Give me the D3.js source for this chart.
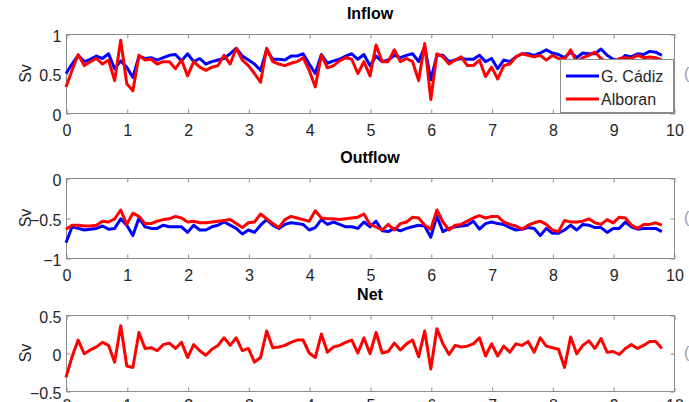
<!DOCTYPE html>
<html>
<head>
<meta charset="utf-8">
<script src="https://cdn.jsdelivr.net/npm/d3@7"></script>
<style>
    body { margin: 0; background: #fff; }
    svg { display: block; font-family: "Liberation Sans", Arial, sans-serif; }
    .tick text { fill: #262626; font-size: 16px; }
    .domain, .tick line { stroke: #8c8c8c; }
    .panelTitle { font-size: 16px; font-weight: bold; fill: #000; text-anchor: middle; }
    .axisLabel { font-size: 16px; fill: #262626; text-anchor: middle; }
</style>
</head>
<body>
<div id="chart"></div>
<script>

// time axis (years), one value every 0.1
const years = d3.range(0, 99).map(i => i / 10);

const xTicks = [0, 1, 2, 3, 4, 5, 6, 7, 8, 9, 10];
const seriesNames = ["G. Cádiz", "Alboran"];
const seriesColors = ["#0000ff", "#ff0000"];
const panelTitles = ["Inflow", "Outflow", "Net"];
const panelTags = ["(a)", "(b)", "(c)"];

const inflowCadiz = [
    0.50, 0.62, 0.73, 0.65, 0.68, 0.72, 0.69, 0.75, 0.56, 0.66,
    0.58, 0.45, 0.72, 0.69, 0.70, 0.67, 0.70, 0.73, 0.74, 0.66,
    0.75, 0.65, 0.69, 0.62, 0.65, 0.67, 0.69, 0.75, 0.82, 0.72,
    0.67, 0.62, 0.54, 0.80, 0.68, 0.68, 0.67, 0.72, 0.72, 0.75,
    0.62, 0.50, 0.74, 0.63, 0.66, 0.68, 0.72, 0.75, 0.68, 0.74,
    0.60, 0.72, 0.65, 0.67, 0.73, 0.70, 0.73, 0.75, 0.65, 0.84,
    0.42, 0.73, 0.73, 0.65, 0.67, 0.69, 0.68, 0.68, 0.73, 0.65,
    0.69, 0.56, 0.67, 0.65, 0.71, 0.75, 0.75, 0.73, 0.76, 0.80,
    0.76, 0.74, 0.70, 0.77, 0.70, 0.76, 0.75, 0.75, 0.81, 0.73,
    0.68, 0.66, 0.73, 0.71, 0.75, 0.74, 0.78, 0.77, 0.73
];
const inflowAlboran = [
    0.33, 0.54, 0.74, 0.60, 0.65, 0.69, 0.62, 0.67, 0.41, 0.92,
    0.37, 0.28, 0.73, 0.67, 0.68, 0.62, 0.65, 0.65, 0.56, 0.67,
    0.47, 0.65, 0.58, 0.54, 0.58, 0.60, 0.73, 0.62, 0.82, 0.67,
    0.60, 0.50, 0.39, 0.82, 0.65, 0.62, 0.60, 0.63, 0.65, 0.70,
    0.54, 0.33, 0.73, 0.57, 0.60, 0.66, 0.70, 0.68, 0.50, 0.65,
    0.47, 0.86, 0.65, 0.65, 0.80, 0.65, 0.69, 0.65, 0.41, 0.88,
    0.17, 0.75, 0.71, 0.62, 0.67, 0.71, 0.60, 0.60, 0.67, 0.46,
    0.58, 0.43, 0.60, 0.62, 0.71, 0.75, 0.73, 0.71, 0.73, 0.67,
    0.73, 0.69, 0.68, 0.80, 0.64, 0.70, 0.73, 0.77, 0.69, 0.64,
    0.64, 0.69, 0.70, 0.69, 0.73, 0.70, 0.71, 0.70, 0.67
];
const outflowCadiz = [
    -0.81, -0.61, -0.63, -0.65, -0.64, -0.63, -0.60, -0.64, -0.63, -0.51,
    -0.59, -0.72, -0.50, -0.61, -0.63, -0.63, -0.59, -0.61, -0.61, -0.61,
    -0.68, -0.59, -0.65, -0.65, -0.61, -0.59, -0.55, -0.59, -0.63, -0.70,
    -0.65, -0.68, -0.59, -0.52, -0.59, -0.63, -0.58, -0.56, -0.57, -0.58,
    -0.65, -0.62, -0.52, -0.58, -0.55, -0.58, -0.61, -0.61, -0.63, -0.55,
    -0.61, -0.54, -0.66, -0.67, -0.63, -0.66, -0.63, -0.61, -0.59, -0.60,
    -0.74, -0.48, -0.67, -0.63, -0.61, -0.60, -0.59, -0.54, -0.64, -0.57,
    -0.55, -0.57, -0.58, -0.62, -0.65, -0.64, -0.62, -0.63, -0.72, -0.63,
    -0.69, -0.69, -0.65, -0.59, -0.65, -0.58, -0.59, -0.62, -0.62, -0.68,
    -0.63, -0.63, -0.55, -0.61, -0.64, -0.63, -0.63, -0.63, -0.67
];
const outflowAlboran = [
    -0.64, -0.59, -0.59, -0.60, -0.60, -0.59, -0.54, -0.55, -0.51, -0.40,
    -0.58, -0.44, -0.48, -0.57, -0.57, -0.54, -0.52, -0.51, -0.48, -0.50,
    -0.55, -0.54, -0.56, -0.56, -0.55, -0.54, -0.53, -0.52, -0.57, -0.62,
    -0.56, -0.55, -0.45, -0.51, -0.57, -0.62, -0.52, -0.48, -0.50, -0.52,
    -0.54, -0.41, -0.50, -0.51, -0.51, -0.52, -0.51, -0.50, -0.49, -0.45,
    -0.58, -0.61, -0.65, -0.58, -0.65, -0.57, -0.55, -0.49, -0.50, -0.59,
    -0.64, -0.40, -0.55, -0.65, -0.59, -0.58, -0.54, -0.50, -0.47, -0.50,
    -0.48, -0.48, -0.55, -0.58, -0.60, -0.64, -0.59, -0.56, -0.54, -0.58,
    -0.65, -0.67, -0.53, -0.55, -0.55, -0.54, -0.51, -0.56, -0.58, -0.52,
    -0.56, -0.49, -0.50, -0.59, -0.63, -0.58, -0.58, -0.56, -0.59
];
const netAlboran = [
    -0.32, -0.05, 0.17, -0.01, 0.04, 0.08, 0.14, 0.10, -0.12, 0.36,
    -0.17, -0.19, 0.27, 0.06, 0.07, 0.03, 0.11, 0.13, 0.06, 0.14,
    -0.06, 0.11, 0.03, -0.03, 0.05, 0.10, 0.20, 0.10, 0.20, 0.03,
    0.06, -0.12, -0.06, 0.29, 0.07, 0.08, 0.10, 0.14, 0.17, 0.17,
    0.00, -0.06, 0.25, 0.01, 0.08, 0.10, 0.14, 0.17, 0.00, 0.20,
    -0.01, 0.27, 0.00, 0.02, 0.13, 0.04, 0.12, 0.17, -0.05, 0.29,
    -0.21, 0.32, 0.12, -0.02, 0.10, 0.08, 0.09, 0.12, 0.20, -0.04,
    0.12, -0.04, 0.09, 0.01, 0.12, 0.10, 0.15, 0.01, 0.20, 0.09,
    0.07, 0.05, -0.19, 0.21, -0.01, 0.10, 0.16, 0.06, 0.19, 0.01,
    0.02, -0.02, 0.06, 0.11, 0.06, 0.10, 0.15, 0.15, 0.06
];

const yDomains = [[0, 1], [-1, 0], [-0.5, 0.5]];
const yTicks = [[0, 0.5, 1], [-1, -0.5, 0], [-0.5, 0, 0.5]];

const width = 689, height = 402;
const left = 66, right = 674;
// top / bottom pixel of each subplot, and gap to the x tick labels
const panelBox = [[34, 113], [178, 258], [315, 391]];
const xLabelPad = [11, 11, 8];

const svg = d3.select("#chart").append("svg")
    .attr("width", width)
    .attr("height", height);

const xScale = d3.scaleLinear().domain([0, 10]).range([left, right]);

// which series go in which panel
const panelSeries = [
    [inflowCadiz, inflowAlboran],
    [outflowCadiz, outflowAlboran],
    [null, netAlboran]
];

panelTitles.forEach(function (title, p) {
    let [top, bottom] = panelBox[p];
    let yScale = d3.scaleLinear().domain(yDomains[p]).range([bottom, top]);
    let g = svg.append("g");

    // box
    g.append("rect")
        .attr("x", left + 0.5).attr("y", top + 0.5)
        .attr("width", right - left).attr("height", bottom - top)
        .attr("fill", "#fff").attr("stroke", "#8c8c8c");

    let line = d3.line()
        .x((d, i) => xScale(years[i]))
        .y(d => yScale(d));
    panelSeries[p].forEach(function (values, s) {
        if (!values) return;
        g.append("path")
            .datum(values)
            .attr("d", line)
            .attr("fill", "none")
            .attr("stroke", seriesColors[s])
            .attr("stroke-width", 3)
            .attr("stroke-linejoin", "round");
    });

    // axes, ticks point inward like matlab
    let xAxis = g.append("g")
        .attr("transform", "translate(0.5," + (bottom + 0.5) + ")")
        .call(d3.axisBottom(xScale).tickValues(xTicks).tickSizeInner(-4).tickSizeOuter(0).tickPadding(xLabelPad[p]));
    xAxis.select(".domain").remove();

    g.append("g")
        .attr("transform", "translate(0.5," + (top + 0.5) + ")")
        .call(d3.axisTop(xScale).tickValues(xTicks).tickSizeInner(-4).tickSizeOuter(0).tickFormat(""))
        .select(".domain").remove();

    let yAxis = g.append("g")
        .attr("transform", "translate(" + (left + 0.5) + ",0.5)")
        .call(d3.axisLeft(yScale).tickValues(yTicks[p]).tickSizeInner(-4).tickSizeOuter(0).tickPadding(5).tickFormat(d3.format("")));
    yAxis.select(".domain").remove();
    yAxis.selectAll("text").attr("dy", "0.42em");

    g.append("g")
        .attr("transform", "translate(" + (right + 0.5) + ",0.5)")
        .call(d3.axisRight(yScale).tickValues(yTicks[p]).tickSizeInner(-4).tickSizeOuter(0).tickFormat(""))
        .select(".domain").remove();

    // title and y label
    g.append("text")
        .attr("class", "panelTitle")
        .attr("x", (left + right) / 2)
        .attr("y", top - 15)
        .text(title);

    g.append("text")
        .attr("class", "axisLabel")
        .attr("transform", "translate(31," + ((top + bottom) / 2) + ") rotate(-90)")
        .text("Sv");

    // panel letter, cut off by the page edge
    g.append("text")
        .attr("x", 684)
        .attr("y", (top + bottom) / 2 + 5)
        .attr("font-size", 16)
        .attr("fill", "#9a9a9a")
        .text(panelTags[p]);
});

// legend sits on top of the inflow panel
let legend = svg.append("g");
legend.append("rect")
    .attr("x", 560.5).attr("y", 59.5)
    .attr("width", 113).attr("height", 53)
    .attr("fill", "#fff").attr("stroke", "#8c8c8c");

seriesNames.forEach(function (name, s) {
    let ly = 76 + s * 23;
    legend.append("line")
        .attr("x1", 566).attr("x2", 599)
        .attr("y1", ly).attr("y2", ly)
        .attr("stroke", seriesColors[s])
        .attr("stroke-width", 3);
    legend.append("text")
        .attr("x", 601).attr("y", ly + 6)
        .attr("font-size", 16)
        .attr("fill", "#262626")
        .text(name);
});

</script>
</body>
</html>
